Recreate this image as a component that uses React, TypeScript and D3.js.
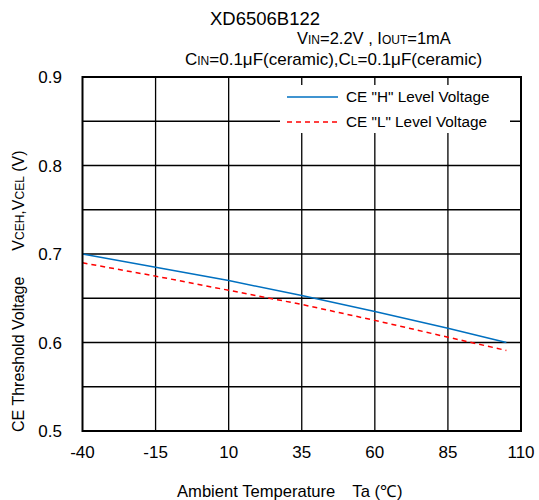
import React from "react";
import * as d3 from "d3";

const temps = [-40, -15, 10, 35, 60, 85, 105];
const vceh = [0.7, 0.685, 0.67, 0.653, 0.635, 0.616, 0.6];
const vcel = [0.69, 0.675, 0.659, 0.643, 0.625, 0.606, 0.591];
const xTicks = [-40, -15, 10, 35, 60, 85, 110];
const yTicks = [0.5, 0.6, 0.7, 0.8, 0.9];
const yGrid = [0.55, 0.6, 0.65, 0.7, 0.75, 0.8, 0.85];

export default function App() {
  const W = 539, H = 500;
  const L = 82.5, R = 521, T = 77, B = 431;
  const x = d3.scaleLinear().domain([-40, 110]).range([L, R]);
  const y = d3.scaleLinear().domain([0.5, 0.9]).range([B, T]);
  const line = d3.line<[number, number]>().x(d => x(d[0])).y(d => y(d[1]));
  const hData = temps.map((t, i) => [t, vceh[i]] as [number, number]);
  const lData = temps.map((t, i) => [t, vcel[i]] as [number, number]);
  const font = "'Liberation Sans', Arial, sans-serif";
  return (
    <svg width={W} height={H} style={{ position: "absolute", left: 0, top: 0 }} fontFamily={font}>
      <rect width={W} height={H} fill="#fff" />
      {xTicks.slice(1, -1).map(t => (
        <line key={"gx" + t} x1={x(t)} x2={x(t)} y1={T} y2={B} stroke="#000" strokeWidth={1.3} />
      ))}
      {yGrid.map(v => (
        <line key={"gy" + v} x1={L} x2={R} y1={y(v)} y2={y(v)} stroke="#000" strokeWidth={1.3} />
      ))}
      <rect x={280} y={85} width={230} height={48} fill="#fff" />
      <path d={line(hData) || ""} fill="none" stroke="#0070C0" strokeWidth={1.5} />
      <path d={line(lData) || ""} fill="none" stroke="#FF0000" strokeWidth={1.5} strokeDasharray="5,4" />
      <rect x={L} y={T} width={R - L} height={B - T} fill="none" stroke="#000" strokeWidth={2} />
      <line x1={287} x2={338} y1={97} y2={97} stroke="#0070C0" strokeWidth={1.5} />
      <text x={346} y={102} fontSize={15.3}>CE "H" Level Voltage</text>
      <line x1={287} x2={338} y1={122} y2={122} stroke="#FF0000" strokeWidth={1.5} strokeDasharray="5,4" />
      <text x={346} y={127} fontSize={15.3}>CE "L" Level Voltage</text>
      {yTicks.map(v => (
        <text key={"yt" + v} x={62} y={y(v) + 6} fontSize={17} textAnchor="end">{v.toFixed(1)}</text>
      ))}
      {xTicks.map(t => (
        <text key={"xt" + t} x={x(t)} y={458} fontSize={17} textAnchor="middle">{t}</text>
      ))}
      <text x={210} y={25} fontSize={18.5}>XD6506B122</text>
      <text x={297} y={44} fontSize={16.5}>
        V<tspan fontSize={12}>IN</tspan>=2.2V , I<tspan fontSize={12}>OUT</tspan>=1mA
      </text>
      <text x={185} y={65} fontSize={17}>
        C<tspan fontSize={12}>IN</tspan>=0.1μF(ceramic),C<tspan fontSize={12}>L</tspan>=0.1μF(ceramic)
      </text>
      <text x={177} y={497} fontSize={16.6}>
        Ambient Temperature<tspan dx={17}>Ta (℃)</tspan>
      </text>
      <text transform="translate(24,432) rotate(-90)" fontSize={16}>
        CE Threshold Voltage<tspan dx={26}>V</tspan><tspan fontSize={12}>CEH</tspan>,V<tspan fontSize={12}>CEL</tspan> (V)
      </text>
    </svg>
  );
}
